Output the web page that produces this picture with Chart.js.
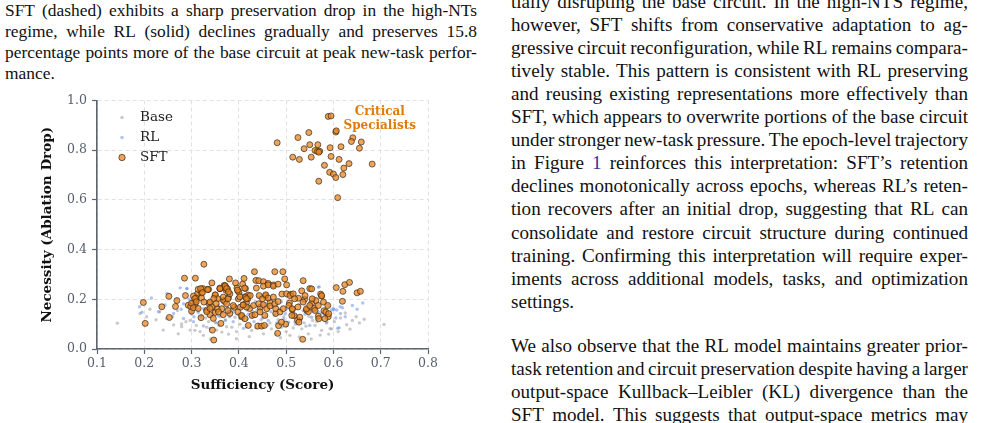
<!DOCTYPE html>
<html>
<head>
<meta charset="utf-8">
<script src="https://cdn.jsdelivr.net/npm/chart.js@4.4.1/dist/chart.umd.min.js"></script>
<style>
  html, body { margin: 0; padding: 0; background: #fff; }
  body { width: 988px; height: 423px; position: relative; overflow: hidden;
         font-family: "Liberation Serif", "Times New Roman", serif; color: #111; }
  .ln { position: absolute; display: flex; justify-content: space-between; white-space: nowrap; }
  .ln.last { justify-content: flex-start; }
  .cap { left: 5px; width: 472px; font-size: 17.4px; height: 21px; line-height: 21px; }
  .body { left: 511px; width: 457px; font-size: 19.1px; height: 23px; line-height: 23px; }
  em { font-style: normal; color: #1f3a9e; }
  #wrap { position: absolute; left: 0; top: 88px; width: 470px; height: 322px; }
</style>
</head>
<body>

<div class="ln cap" style="top:-0.5px">SFT (dashed) exhibits a sharp preservation drop in the high-NTs</div>
<div class="ln cap" style="top:20.7px">regime, while RL (solid) declines gradually and preserves 15.8</div>
<div class="ln cap" style="top:41.9px">percentage points more of the base circuit at peak new-task perfor-</div>
<div class="ln cap last" style="top:63.1px">mance.</div>

<div class="ln body" style="top:-10.5px">tially disrupting the base circuit. In the high-NTS regime,</div>
<div class="ln body" style="top:12.6px">however, SFT shifts from conservative adaptation to ag-</div>
<div class="ln body" style="top:35.7px">gressive circuit reconfiguration, while RL remains compara-</div>
<div class="ln body" style="top:58.8px">tively stable. This pattern is consistent with RL preserving</div>
<div class="ln body" style="top:81.9px">and reusing existing representations more effectively than</div>
<div class="ln body" style="top:105px">SFT, which appears to overwrite portions of the base circuit</div>
<div class="ln body" style="top:128.1px">under stronger new-task pressure. The epoch-level trajectory</div>
<div class="ln body" style="top:151.2px">in Figure <em>1</em> reinforces this interpretation: SFT’s retention</div>
<div class="ln body" style="top:174.3px">declines monotonically across epochs, whereas RL’s reten-</div>
<div class="ln body" style="top:197.4px">tion recovers after an initial drop, suggesting that RL can</div>
<div class="ln body" style="top:220.5px">consolidate and restore circuit structure during continued</div>
<div class="ln body" style="top:243.6px">training. Confirming this interpretation will require exper-</div>
<div class="ln body" style="top:266.7px">iments across additional models, tasks, and optimization</div>
<div class="ln body last" style="top:289.8px">settings.</div>
<div class="ln body" style="top:334px">We also observe that the RL model maintains greater prior-</div>
<div class="ln body" style="top:357.1px">task retention and circuit preservation despite having a larger</div>
<div class="ln body" style="top:380.2px">output-space Kullback–Leibler (KL) divergence than the</div>
<div class="ln body" style="top:403.3px">SFT model. This suggests that output-space metrics may</div>

<div id="wrap"><canvas id="scatter" width="470" height="322"></canvas></div>

<script>
// split justified lines into word spans so flex can spread them
document.querySelectorAll('.ln').forEach(function (el) {
    const words = el.innerHTML.split(' ');
    el.innerHTML = words.map(w => '<span>' + w + '</span>').join(el.classList.contains('last') ? ' ' : '');
});

const seriesNames = ['Base', 'RL', 'SFT'];
const xTickValues = [0.1, 0.2, 0.3, 0.4, 0.5, 0.6, 0.7, 0.8];
const yTickValues = [0.0, 0.2, 0.4, 0.6, 0.8, 1.0];
const annotationLines = ['Critical', 'Specialists'];

// [sufficiency, necessity] per circuit component
const basePoints = [
    [0.143,0.104],[0.191,0.143],[0.205,0.130],[0.212,0.160],[0.225,0.118],[0.233,0.150],[0.247,0.123],[0.262,0.097],
    [0.240,0.076],[0.279,0.090],[0.297,0.076],[0.318,0.070],[0.336,0.110],[0.353,0.076],[0.374,0.090],[0.395,0.070],
    [0.416,0.090],[0.272,0.061],[0.279,0.101],[0.297,0.115],[0.307,0.075],[0.321,0.135],[0.332,0.088],[0.350,0.108],
    [0.364,0.068],[0.385,0.088],[0.395,0.041],[0.410,0.115],[0.427,0.075],[0.441,0.101],[0.452,0.061],[0.469,0.081],
    [0.491,0.088],[0.508,0.055],[0.519,0.108],[0.533,0.081],[0.547,0.061],[0.561,0.095],[0.575,0.075],[0.586,0.108],
    [0.596,0.081],[0.572,0.056],[0.593,0.082],[0.707,0.099],[0.300,0.140],[0.315,0.160],[0.330,0.125],[0.345,0.145],
    [0.360,0.130],[0.372,0.118],[0.380,0.150],[0.392,0.128],[0.405,0.140],[0.418,0.122],[0.430,0.135],[0.438,0.155],
    [0.447,0.118],[0.458,0.132],[0.466,0.105],[0.475,0.140],[0.483,0.118],[0.495,0.130],[0.502,0.095],[0.512,0.140],
    [0.525,0.120],[0.538,0.105],[0.548,0.132],[0.556,0.115],[0.568,0.128],[0.580,0.142],[0.602,0.110],[0.615,0.125],
    [0.628,0.098],[0.640,0.115],[0.655,0.105],[0.260,0.130],[0.270,0.155],[0.288,0.110],[0.310,0.095],[0.325,0.055],
    [0.340,0.040],[0.358,0.095],[0.378,0.060],[0.402,0.100],[0.422,0.050],[0.436,0.085],[0.460,0.095],[0.478,0.060],
    [0.488,0.045],[0.500,0.070],[0.515,0.085],[0.528,0.048],[0.542,0.092],[0.553,0.040],[0.565,0.110],[0.590,0.060],
    [0.610,0.070],[0.625,0.145],[0.635,0.080],[0.648,0.130],[0.665,0.120]
];

const rlPoints = [
    [0.195,0.148],[0.190,0.170],[0.215,0.205],[0.230,0.150],[0.248,0.224],[0.276,0.246],[0.290,0.244],[0.244,0.177],
    [0.262,0.143],[0.283,0.123],[0.304,0.110],[0.314,0.147],[0.325,0.093],[0.339,0.083],[0.357,0.134],[0.388,0.110],
    [0.385,0.163],[0.403,0.123],[0.410,0.083],[0.417,0.157],[0.290,0.242],[0.283,0.182],[0.300,0.149],[0.325,0.162],
    [0.342,0.135],[0.357,0.175],[0.371,0.115],[0.388,0.149],[0.402,0.162],[0.427,0.128],[0.448,0.149],[0.462,0.115],
    [0.476,0.135],[0.498,0.142],[0.505,0.108],[0.522,0.135],[0.536,0.155],[0.554,0.128],[0.568,0.249],[0.568,0.149],
    [0.582,0.135],[0.589,0.175],[0.600,0.162],[0.441,0.209],[0.406,0.222],[0.570,0.250],[0.596,0.157],[0.601,0.159],
    [0.614,0.170],[0.619,0.166],[0.615,0.143],[0.612,0.086],[0.557,0.206],[0.607,0.157],[0.609,0.083],[0.640,0.175],
    [0.650,0.160],[0.662,0.185],[0.310,0.175],[0.320,0.130],[0.332,0.150],[0.336,0.185],[0.348,0.160],[0.352,0.105],
    [0.364,0.145],[0.368,0.190],[0.375,0.165],[0.380,0.130],[0.393,0.175],[0.398,0.140],[0.412,0.185],[0.420,0.140],
    [0.425,0.170],[0.432,0.110],[0.435,0.190],[0.443,0.165],[0.450,0.125],[0.455,0.180],[0.468,0.150],[0.472,0.170],
    [0.480,0.105],[0.485,0.160],[0.490,0.190],[0.495,0.120],[0.510,0.165],[0.515,0.145],[0.520,0.100],[0.528,0.180],
    [0.532,0.120],[0.540,0.140],[0.545,0.170],[0.550,0.095],[0.560,0.160],[0.565,0.120],[0.575,0.145],[0.585,0.105],
    [0.592,0.140],[0.605,0.125],[0.625,0.130],[0.268,0.200],[0.278,0.160],[0.295,0.200],[0.305,0.130],[0.345,0.210],
    [0.395,0.200],[0.430,0.150],[0.460,0.200],[0.500,0.160]
];

const sftPoints = [
    // high-necessity cluster
    [0.589,0.936],[0.595,0.938],[0.481,0.830],[0.525,0.851],[0.548,0.871],[0.605,0.873],[0.606,0.878],[0.641,0.850],
    [0.638,0.835],[0.659,0.833],[0.655,0.808],[0.538,0.806],[0.550,0.822],[0.567,0.822],[0.561,0.799],[0.566,0.795],
    [0.571,0.796],[0.569,0.792],[0.593,0.810],[0.616,0.814],[0.514,0.772],[0.528,0.763],[0.553,0.772],[0.595,0.775],
    [0.612,0.763],[0.581,0.739],[0.633,0.746],[0.622,0.728],[0.620,0.702],[0.682,0.744],[0.592,0.711],[0.600,0.704],
    [0.605,0.690],[0.569,0.675],[0.609,0.609],
    // main band
    [0.198,0.187],[0.202,0.103],[0.237,0.170],[0.252,0.212],[0.253,0.127],[0.266,0.171],[0.269,0.195],[0.285,0.285],
    [0.287,0.215],[0.308,0.285],[0.326,0.341],[0.343,0.266],[0.293,0.176],[0.300,0.152],[0.304,0.187],[0.309,0.196],
    [0.312,0.221],[0.321,0.241],[0.334,0.240],[0.320,0.126],[0.332,0.156],[0.337,0.183],[0.344,0.076],[0.347,0.036],
    [0.350,0.217],[0.350,0.147],[0.355,0.161],[0.360,0.242],[0.362,0.103],[0.367,0.196],[0.371,0.254],[0.373,0.236],
    [0.378,0.207],[0.380,0.282],[0.381,0.143],[0.393,0.266],[0.398,0.234],[0.390,0.168],[0.403,0.168],[0.406,0.130],
    [0.408,0.261],[0.411,0.284],[0.413,0.210],[0.416,0.186],[0.420,0.217],[0.423,0.163],[0.414,0.243],[0.433,0.311],
    [0.436,0.276],[0.440,0.092],[0.442,0.275],[0.445,0.168],[0.448,0.092],[0.452,0.271],[0.456,0.213],[0.462,0.264],
    [0.466,0.187],[0.473,0.258],[0.476,0.311],[0.478,0.143],[0.482,0.063],[0.484,0.094],[0.491,0.221],[0.493,0.311],
    [0.499,0.100],[0.501,0.258],[0.507,0.185],[0.510,0.220],[0.513,0.159],[0.517,0.134],[0.524,0.116],[0.526,0.204],
    [0.533,0.234],[0.535,0.039],[0.536,0.275],[0.539,0.200],[0.543,0.156],[0.547,0.150],[0.550,0.243],[0.554,0.185],
    [0.559,0.163],[0.563,0.195],[0.568,0.132],[0.573,0.221],[0.575,0.213],[0.580,0.154],[0.589,0.130],[0.606,0.247],
    [0.619,0.192],[0.620,0.232],[0.624,0.259],[0.634,0.268],[0.650,0.226],[0.657,0.232],
    [0.298,0.171],[0.304,0.213],[0.307,0.178],[0.310,0.205],[0.314,0.240],[0.321,0.225],[0.324,0.243],[0.336,0.240],
    [0.339,0.189],[0.343,0.169],[0.339,0.138],[0.350,0.218],[0.355,0.202],[0.360,0.245],[0.364,0.162],[0.369,0.256],
    [0.372,0.249],[0.376,0.242],[0.367,0.209],[0.370,0.191],[0.374,0.182],[0.377,0.202],[0.357,0.149],[0.367,0.138],
    [0.377,0.155],[0.381,0.222],[0.388,0.175],[0.396,0.245],[0.400,0.229],[0.399,0.202],[0.398,0.149],[0.412,0.245],
    [0.414,0.209],[0.419,0.202],[0.424,0.215],[0.409,0.178],[0.416,0.169],[0.406,0.135],[0.413,0.122],[0.420,0.095],
    [0.428,0.135],[0.434,0.138],[0.431,0.175],[0.437,0.245],[0.452,0.253],[0.462,0.258],[0.473,0.253],[0.483,0.261],
    [0.443,0.215],[0.450,0.202],[0.457,0.218],[0.462,0.205],[0.442,0.182],[0.452,0.178],[0.459,0.162],[0.466,0.173],
    [0.445,0.149],[0.455,0.135],[0.454,0.095],[0.473,0.209],[0.476,0.182],[0.483,0.191],[0.478,0.162],[0.487,0.149],
    [0.494,0.162],[0.490,0.108],[0.497,0.282],[0.501,0.222],[0.508,0.215],[0.515,0.222],[0.518,0.202],[0.506,0.175],
    [0.513,0.162],[0.525,0.169],[0.512,0.135],[0.529,0.128],[0.527,0.108],[0.536,0.189],[0.540,0.215],[0.543,0.162],
    [0.550,0.175],[0.554,0.242],[0.555,0.202],[0.561,0.155],[0.568,0.175],[0.575,0.215],[0.579,0.189],[0.584,0.149],
    [0.588,0.175],[0.590,0.142],[0.569,0.122],[0.582,0.122],
    [0.300,0.184],[0.304,0.166],[0.307,0.203],[0.310,0.190],[0.314,0.163],[0.319,0.243],[0.323,0.227],[0.321,0.205],
    [0.326,0.189],[0.334,0.239],[0.332,0.150],[0.339,0.163],[0.347,0.203],[0.352,0.183],[0.360,0.243],[0.371,0.254],
    [0.374,0.243],[0.378,0.230],[0.346,0.123],[0.397,0.237],[0.402,0.210],[0.409,0.177],[0.416,0.203]
];

const toXY = pts => pts.map(p => ({ x: p[0], y: p[1] }));

const serifFont = "'DejaVu Serif', serif";
const axisColor = '#5c6470';
const labelColor = '#575f6b';
const gridColor = '#e1e1e1';

const markerStyles = {
    Base: { fill: 'rgba(150,150,150,0.5)', edge: 'rgba(0,0,0,0)', r: 1.7, bw: 0 },
    RL:   { fill: 'rgba(95,140,225,0.5)', edge: 'rgba(0,0,0,0)', r: 1.7, bw: 0 },
    SFT:  { fill: 'rgba(232,134,34,0.75)', edge: 'rgba(50,36,22,0.85)', r: 3, bw: 0.8 }
};

// legend + annotation drawn inside the plot
const overlayPlugin = {
    id: 'overlay',
    afterDraw(chart) {
        const { ctx, chartArea, scales } = chart;
        ctx.save();
        ctx.font = "13.5px " + serifFont;
        ctx.textBaseline = 'middle';
        seriesNames.forEach((name, i) => {
            const st = markerStyles[name];
            const mx = chartArea.left + 25;
            const my = chartArea.top + 17 + i * 20;
            ctx.beginPath();
            ctx.arc(mx, my, name === 'SFT' ? 3.2 : 1.8, 0, Math.PI * 2);
            ctx.fillStyle = st.fill;
            ctx.fill();
            if (st.bw) { ctx.lineWidth = st.bw; ctx.strokeStyle = st.edge; ctx.stroke(); }
            ctx.fillStyle = '#222';
            ctx.textAlign = 'left';
            ctx.fillText(name, mx + 18, my);
        });
        ctx.font = "bold 12px " + serifFont;
        ctx.fillStyle = '#e07a0a';
        ctx.textAlign = 'center';
        const ax = scales.x.getPixelForValue(0.698);
        ctx.fillText(annotationLines[0], ax, scales.y.getPixelForValue(0.955));
        ctx.fillText(annotationLines[1], ax, scales.y.getPixelForValue(0.899));
        ctx.restore();
    }
};

const datasets = [basePoints, rlPoints, sftPoints].map((pts, i) => {
    const st = markerStyles[seriesNames[i]];
    return {
        label: seriesNames[i],
        data: toXY(pts),
        backgroundColor: st.fill,
        borderColor: st.edge,
        borderWidth: st.bw,
        pointRadius: st.r,
        order: 3 - i
    };
});

new Chart(document.getElementById('scatter').getContext('2d'), {
    type: 'scatter',
    data: { datasets: datasets },
    options: {
        responsive: false,
        animation: false,
        devicePixelRatio: 1,
        layout: { padding: { top: 12, right: 42, left: 0, bottom: 0 } },
        plugins: { legend: { display: false }, tooltip: { enabled: false } },
        scales: {
            x: {
                type: 'linear',
                min: 0.1, max: 0.8,
                afterBuildTicks: s => { s.ticks = xTickValues.map(v => ({ value: v })); },
                afterFit: s => { s.height = 61; },
                ticks: {
                    font: { family: serifFont, size: 12.5 }, color: labelColor, padding: 2,
                    callback: v => v.toFixed(1)
                },
                grid: { color: gridColor, tickColor: axisColor, tickLength: 5, tickWidth: 1.2 },
                border: { color: axisColor, width: 1.6, dash: [4, 3] },
                title: {
                    display: true, text: 'Sufficiency (Score)', color: '#111',
                    font: { family: serifFont, size: 13.5, weight: 'bold' },
                    padding: { top: 0, bottom: 16 }
                }
            },
            y: {
                type: 'linear',
                min: 0, max: 1,
                afterBuildTicks: s => { s.ticks = yTickValues.map(v => ({ value: v })); },
                afterFit: s => { s.width = 97; },
                ticks: {
                    font: { family: serifFont, size: 12.5 }, color: labelColor, padding: 5,
                    callback: v => v.toFixed(1)
                },
                grid: { color: gridColor, tickColor: axisColor, tickLength: 5, tickWidth: 1.2 },
                border: { color: axisColor, width: 1.6, dash: [4, 3] },
                title: {
                    display: true, text: 'Necessity (Ablation Drop)', color: '#111',
                    font: { family: serifFont, size: 13.5, weight: 'bold' },
                    padding: { top: 39, bottom: 0 }
                }
            }
        }
    },
    plugins: [overlayPlugin]
});
</script>
</body>
</html>
